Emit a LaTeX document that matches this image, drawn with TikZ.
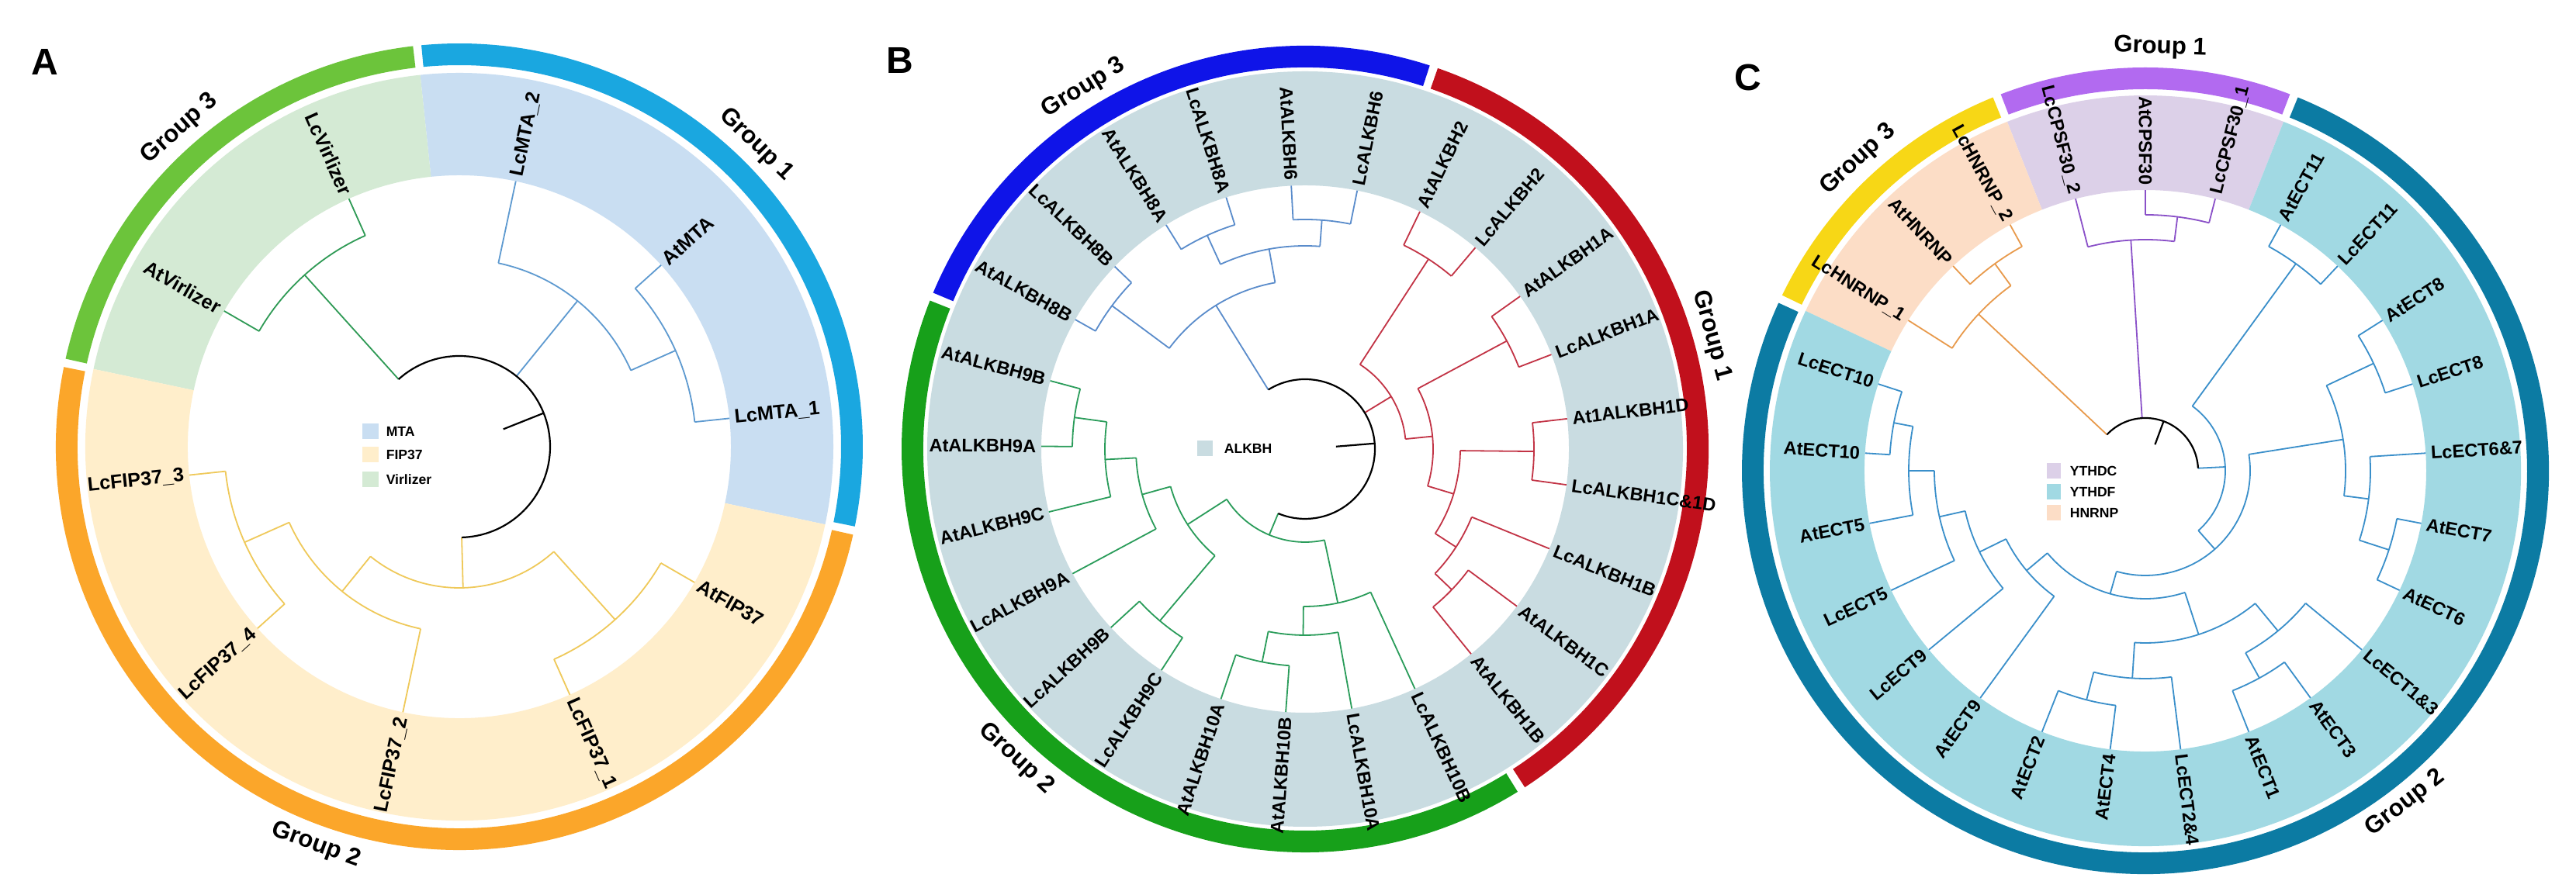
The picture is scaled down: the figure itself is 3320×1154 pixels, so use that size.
\documentclass[tikz,border=0pt]{standalone}
\usepackage{fontspec}
\setmainfont{Liberation Sans}
\definecolor{ringA1}{HTML}{1AA7E0}\definecolor{ringA2}{HTML}{FBA62A}\definecolor{ringA3}{HTML}{6CC43B}
\definecolor{bandA1}{HTML}{C9DEF2}\definecolor{bandA2}{HTML}{FFEECB}\definecolor{bandA3}{HTML}{D4EAD4}
\definecolor{brA1}{HTML}{5E9AD0}\definecolor{brA2}{HTML}{EFC95A}\definecolor{brA3}{HTML}{2F9A55}
\definecolor{ringB1}{HTML}{C1101C}\definecolor{ringB2}{HTML}{17A01A}\definecolor{ringB3}{HTML}{0F14E8}
\definecolor{bandB}{HTML}{C9DCE1}
\definecolor{brB1}{HTML}{C23345}\definecolor{brB2}{HTML}{2A9C5A}\definecolor{brB3}{HTML}{5A8CCB}
\definecolor{ringC1}{HTML}{B26AF0}\definecolor{ringC2}{HTML}{0C7BA3}\definecolor{ringC3}{HTML}{F7D716}
\definecolor{bandC1}{HTML}{DCD0E8}\definecolor{bandC2}{HTML}{A1D9E3}\definecolor{bandC3}{HTML}{FCDDC6}
\definecolor{brC1}{HTML}{8A50C8}\definecolor{brC2}{HTML}{3A8FCA}\definecolor{brC3}{HTML}{E89A4C}
\newcommand\sector[5]{\fill[#1] (#2:#4) arc[start angle=#2,end angle=#3,radius=#4*0.25pt] -- (#3:#5) arc[start angle=#3,end angle=#2,radius=#5*0.25pt] -- cycle;}
\newcommand\jn[5]{\draw (#2:#1) arc[start angle=#2,end angle=#4,radius=#1*0.25pt];
 \draw (#2:#1) -- (#2:#3); \draw (#4:#1) -- (#4:#5);}
\newcount\lc
\newcommand\leaf[3]{\global\advance\lc by 1
 \pgfmathsetmacro\cc{cos(#1)}%
 \ifdim\cc pt>0.001pt
  \node[lab,anchor=west,rotate=#1] (lf\the\lc) at (#1:#2) {#3};
 \else
  \node[lab,anchor=east,rotate=#1+180] (lf\the\lc) at (#1:#2) {#3};
 \fi}
\newcommand\grp[4]{\global\advance\lc by 1
 \pgfmathsetmacro\ss{sin(#1)}%
 \ifdim\ss pt>0pt
  \node[grplab,rotate=#1-90] (g\the\lc) at (#1:#2) {#3};
 \else
  \node[grplab,rotate=#1+90] (g\the\lc) at (#1:#2) {#3};
 \fi}
\begin{document}
\begin{tikzpicture}[x=0.25pt,y=0.25pt,
  lab/.style={inner sep=0.5pt,font=\fontsize{5.9}{6}\selectfont\bfseries},
  grplab/.style={inner sep=0pt,font=\fontsize{7.8}{8}\selectfont\bfseries},
  leg/.style={inner sep=0pt,anchor=west,font=\fontsize{4.4}{5}\selectfont\bfseries},
  letter/.style={inner sep=0pt,font=\fontsize{12}{12}\selectfont\bfseries},
  br/.style={line width=0.45pt}]
\useasboundingbox (0,0) rectangle (3320,1154);
\fill[white] (0,0) rectangle (3320,1154);
\node[letter] (la) at (58,1074) {A};
\node[letter] (lb) at (1160,1076) {B};
\node[letter] (lc) at (2253,1054) {C};
% ================= Panel A
\begin{scope}[shift={(592,578)}]
\sector{bandA1}{-12}{96}{350}{482}
\sector{bandA3}{96}{168}{350}{482}
\sector{bandA2}{168}{348}{350}{482}
\sector{ringA1}{-11.4}{95.4}{492}{520}
\sector{ringA3}{96.6}{167.4}{492}{520}
\sector{ringA2}{168.6}{347.4}{492}{520}
\grp{45.5}{546}{Group 1}{}
\grp{131.3}{546}{Group 3}{}
\grp{-109.8}{546}{Group 2}{}
\begin{scope}[br,draw=brA1]
\jn{305}{42}{350}{6}{350}
\jn{242}{78}{350}{24}{305}
\draw (51:117) -- (51:242);
\end{scope}
\begin{scope}[br,draw=brA3]
\jn{298}{150}{350}{114}{350}
\draw (132:117) -- (132:298);
\end{scope}
\begin{scope}[br,draw=brA2]
\jn{300}{-30}{350}{-66}{350}
\jn{303}{186}{350}{222}{350}
\jn{240}{204}{303}{258}{350}
\jn{182}{231}{240}{312}{300}
\draw (271.5:117) -- (271.5:182);
\end{scope}
\begin{scope}[line width=0.55pt]
\draw (132:117) arc[start angle=132,end angle=-88.5,radius=117*0.25pt];
\draw (21.75:61) -- (21.75:117);
\end{scope}
\begin{scope}[lab/.append style={font=\fontsize{6.3}{6.5}\selectfont\bfseries}]
\leaf{78}{354}{LcMTA\_2}\leaf{42}{354}{AtMTA}\leaf{6}{354}{LcMTA\_1}
\leaf{-30}{354}{AtFIP37}\leaf{-66}{354}{LcFIP37\_1}\leaf{-102}{354}{LcFIP37\_2}
\leaf{-138}{354}{LcFIP37\_4}\leaf{186}{354}{LcFIP37\_3}\leaf{150}{354}{AtVirlizer}
\leaf{114}{354}{LcVirlizer}
\end{scope}
\end{scope}
\fill[bandA1] (467,588) rectangle (488,608); \node[leg] (ma) at (497,598) {MTA};
\fill[bandA2] (467,558) rectangle (488,578); \node[leg] (mb) at (497,568) {FIP37};
\fill[bandA3] (467,526) rectangle (488,546); \node[leg] (mc) at (497,536) {Virlizer};
% ================= Panel B
\begin{scope}[shift={(1682,575)}]
\sector{bandB}{0}{360}{340}{487}
\sector{ringB1}{-57}{70.8}{492}{520}
\sector{ringB3}{72}{157.2}{492}{520}
\sector{ringB2}{158.4}{301.8}{492}{520}
\grp{15.6}{544}{Group 1}{}
\grp{121.5}{546}{Group 3}{}
\grp{-133}{546}{Group 2}{}
\begin{scope}[br,draw=brB1]
\jn{262}{-36.6}{340}{-51}{340}
\jn{232}{-22.2}{340}{-43.8}{262}
\jn{295}{6.6}{340}{-7.8}{340}
\jn{200}{-0.6}{295}{-33}{232}
\jn{295}{35.4}{340}{21}{340}
\jn{165}{28.2}{295}{-16.8}{200}
\jn{292}{64.2}{340}{49.8}{340}
\jn{130}{57}{292}{5.7}{165}
\draw (31.35:90) -- (31.35:130);
\end{scope}
\begin{scope}[br,draw=brB3]
\jn{303}{121.8}{340}{107.4}{340}
\jn{296}{93}{340}{78.6}{340}
\jn{262}{114.6}{303}{85.8}{296}
\jn{310}{150.6}{340}{136.2}{340}
\jn{218}{143.4}{310}{100.2}{262}
\draw (121.8:90) -- (121.8:218);
\end{scope}
\begin{scope}[br,draw=brB2]
\jn{280}{-108.6}{340}{-94.2}{340}
\jn{240}{-101.4}{280}{-79.8}{340}
\jn{203}{-90.6}{240}{-65.4}{340}
\jn{290}{-137.4}{340}{-123}{340}
\jn{300}{165}{340}{179.4}{340}
\jn{258}{172.2}{300}{193.8}{340}
\jn{218}{183}{258}{208.2}{340}
\jn{180}{195.6}{218}{229.8}{290}
\jn{120}{212.7}{180}{282}{203}
\draw (247.35:90) -- (247.35:120);
\end{scope}
\begin{scope}[line width=0.55pt]
\draw (121.8:90) arc[start angle=121.8,end angle=-112.65,radius=90*0.25pt];
\draw (4.6:40) -- (4.6:90);
\end{scope}
\leaf{93}{344}{AtALKBH6}\leaf{78.6}{344}{LcALKBH6}\leaf{64.2}{344}{AtALKBH2}
\leaf{49.8}{344}{LcALKBH2}\leaf{35.4}{344}{AtALKBH1A}\leaf{21}{344}{LcALKBH1A}
\leaf{6.6}{344}{At1ALKBH1D}\leaf{-7.8}{344}{LcALKBH1C\&1D}\leaf{-22.2}{344}{LcALKBH1B}
\leaf{-36.6}{344}{AtALKBH1C}\leaf{-51}{344}{AtALKBH1B}\leaf{-65.4}{344}{LcALKBH10B}
\leaf{-79.8}{344}{LcALKBH10A}\leaf{-94.2}{344}{AtALKBH10B}\leaf{-108.6}{344}{AtALKBH10A}
\leaf{-123}{344}{LcALKBH9C}\leaf{-137.4}{344}{LcALKBH9B}\leaf{-151.8}{344}{LcALKBH9A}
\leaf{-166.2}{344}{AtALKBH9C}\leaf{179.4}{344}{AtALKBH9A}\leaf{165}{344}{AtALKBH9B}
\leaf{150.6}{344}{AtALKBH8B}\leaf{136.2}{344}{LcALKBH8B}\leaf{121.8}{344}{AtALKBH8A}
\leaf{107.4}{344}{LcALKBH8A}
\end{scope}
\fill[bandB] (1543,566) rectangle (1563,586); \node[leg] (mbb) at (1577,576) {ALKBH};
% ================= Panel C
\begin{scope}[shift={(2765,547)}]
\sector{bandC1}{68.4}{111.6}{362}{484}
\sector{bandC3}{111.6}{154.8}{362}{484}
\sector{bandC2}{154.8}{428.4}{362}{484}
\sector{ringC1}{69}{111}{492}{520}
\sector{ringC3}{112.2}{154.2}{492}{520}
\sector{ringC2}{155.4}{427.8}{492}{520}
\grp{88}{546}{Group 1}{}
\grp{132.7}{546}{Group 3}{}
\grp{-52}{544}{Group 2}{}
\begin{scope}[br,draw=brC1]
\jn{330}{90}{362}{75.6}{362}
\jn{298}{104.4}{362}{82.8}{330}
\draw (93.6:68) -- (93.6:298);
\end{scope}
\begin{scope}[br,draw=brC3]
\jn{330}{133.2}{362}{118.8}{362}
\jn{295}{147.6}{362}{126}{330}
\draw (136.8:68) -- (136.8:295);
\end{scope}
\begin{scope}[br,draw=brC2]
\jn{330}{61.2}{362}{46.8}{362}
\jn{325}{32.4}{362}{18}{362}
\jn{330}{-10.8}{362}{-25.2}{362}
\jn{290}{3.6}{362}{-18}{330}
\jn{258}{25.2}{325}{-7.2}{290}
\jn{305}{-111.6}{362}{-97.2}{362}
\jn{268}{-104.4}{305}{-82.8}{362}
\jn{305}{-68.4}{362}{-54}{362}
\jn{268}{-61.2}{305}{-39.6}{362}
\jn{222}{-93.6}{268}{-50.4}{268}
\jn{330}{162}{362}{176.4}{362}
\jn{305}{169.2}{330}{190.8}{362}
\jn{272}{180}{305}{205.2}{362}
\jn{238}{192.6}{272}{219.6}{362}
\jn{200}{206.1}{238}{234}{362}
\jn{165}{-139.95}{200}{-72}{222}
\jn{135}{9}{258}{-105.975}{165}
\jn{103}{54}{330}{-48.49}{135}
\draw (2.76:68) -- (2.76:103);
\end{scope}
\begin{scope}[line width=0.55pt]
\draw (136.8:68) arc[start angle=136.8,end angle=2.76,radius=68*0.25pt];
\draw (69.78:36) -- (69.78:68);
\end{scope}
\leaf{104.4}{366}{LcCPSF30\_2}\leaf{90}{366}{AtCPSF30}\leaf{75.6}{366}{LcCPSF30\_1}
\leaf{61.2}{366}{AtECT11}\leaf{46.8}{366}{LcECT11}\leaf{32.4}{366}{AtECT8}
\leaf{18}{366}{LcECT8}\leaf{3.6}{366}{LcECT6\&7}\leaf{-10.8}{366}{AtECT7}
\leaf{-25.2}{366}{AtECT6}\leaf{-39.6}{366}{LcECT1\&3}\leaf{-54}{366}{AtECT3}
\leaf{-68.4}{366}{AtECT1}\leaf{-82.8}{366}{LcECT2\&4}\leaf{-97.2}{366}{AtECT4}
\leaf{-111.6}{366}{AtECT2}\leaf{-126}{366}{AtECT9}\leaf{-140.4}{366}{LcECT9}
\leaf{-154.8}{366}{LcECT5}\leaf{-169.2}{366}{AtECT5}\leaf{176.4}{366}{AtECT10}
\leaf{162}{366}{LcECT10}\leaf{147.6}{366}{LcHNRNP\_1}\leaf{133.2}{366}{AtHNRNP}
\leaf{118.8}{366}{LcHNRNP\_2}
\end{scope}
\fill[bandC1] (2638,537) rectangle (2656,557); \node[leg] (mc1) at (2667,547) {YTHDC};
\fill[bandC2] (2638,510) rectangle (2656,530); \node[leg] (mc2) at (2667,520) {YTHDF};
\fill[bandC3] (2638,483) rectangle (2656,503); \node[leg] (mc3) at (2667,493) {HNRNP};
\end{tikzpicture}
\end{document}
